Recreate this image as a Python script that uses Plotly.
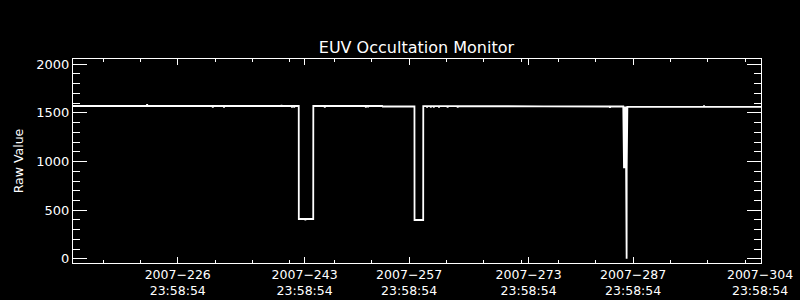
import plotly.graph_objects as go

# ---- data (day of year 2007, raw value) ----
doy = [
    211.97, 221.85, 221.90, 221.95, 230.65, 230.70, 230.75, 232.15, 232.20, 232.25,
    239.85, 239.90, 239.95, 241.25, 241.30, 241.35, 241.55, 241.60, 241.65, 242.21,
    242.22, 243.05, 243.10, 243.15, 244.15,
    244.16, 245.65, 245.70, 245.75, 251.15, 251.20, 251.25, 251.45, 251.50, 251.55, 253.40,
    253.45, 257.71,
    257.72, 258.88,
    258.89, 259.35, 259.40, 259.45, 259.85, 259.90, 259.95, 260.25, 260.30, 260.35,
    260.95, 261.00, 261.05, 262.10, 262.15, 262.20, 263.45, 263.50, 263.55, 275.00,
    283.85, 283.90, 283.95, 285.68,
    285.69, 285.70, 285.76, 285.78, 285.84, 285.86, 285.93, 285.95, 286.01, 286.03,
    286.08, 286.09, 286.13, 286.14, 286.18, 286.20, 286.23,
    296.45, 296.50, 296.55, 304.13,
]
raw = [
    1571, 1571, 1590, 1571, 1571, 1555, 1571, 1571, 1556, 1571,
    1571, 1582, 1571, 1571, 1556, 1571, 1571, 1555, 1571, 1571,
    410, 410, 398, 410, 410,
    1571, 1571, 1556, 1571, 1571, 1556, 1571, 1571, 1557, 1571, 1571,
    1566, 1566,
    400, 400,
    1569, 1569, 1555, 1569, 1569, 1556, 1569, 1569, 1556, 1569,
    1569, 1555, 1569, 1569, 1556, 1569, 1569, 1556, 1569, 1568,
    1566, 1553, 1566, 1566,
    1566, 931, 1566, 931, 1566, 931, 1566, 931, 1566, 931,
    931, 2, 2, 931, 1562, 931, 1562,
    1562, 1575, 1562, 1562,
]

# ---- axis ticks ----
x_range = [211.97, 304.13]
major_days = [226, 243, 257, 273, 287, 304]
major_labels = ["2007\u2212226<br>23:58:54", "2007\u2212243<br>23:58:54",
                "2007\u2212257<br>23:58:54", "2007\u2212273<br>23:58:54",
                "2007\u2212287<br>23:58:54", "2007\u2212304<br>23:58:54"]
minor_days = [216, 221, 231, 236, 241, 247, 252, 262, 267, 272, 277, 282, 292, 297, 302]
y_range = [-42, 2054]
y_ticks = [0, 500, 1000, 1500, 2000]

FONT = "DejaVu Sans"

fig = go.Figure()
fig.add_trace(go.Scatter(x=doy, y=raw, mode="lines",
                         line=dict(color="white", width=1.8),
                         hoverinfo="skip", showlegend=False))

fig.update_layout(
    width=800, height=300,
    paper_bgcolor="black", plot_bgcolor="black",
    margin=dict(l=73, r=39, t=59, b=37, pad=0, autoexpand=False),
    title=dict(text="EUV Occultation Monitor", x=0.5205, xanchor="center",
               y=1 - 47 / 300, yanchor="middle", yref="container",
               font=dict(family=FONT, size=16, color="white")),
    font=dict(family=FONT, color="white"),
    showlegend=False,
)

fig.update_xaxes(
    range=x_range, showgrid=False, zeroline=False, automargin=False,
    showline=True, linecolor="white", linewidth=1, mirror="ticks",
    tickmode="array", tickvals=major_days, ticktext=major_labels,
    ticks="inside", ticklen=6, tickcolor="white", tickwidth=1,
    tickfont=dict(family=FONT, size=12.5, color="white"),
    minor=dict(tickmode="array", tickvals=minor_days, ticks="inside",
               ticklen=3, tickcolor="white", tickwidth=1, showgrid=False),
)
fig.update_yaxes(
    range=y_range, showgrid=False, zeroline=False, automargin=False,
    showline=True, linecolor="white", linewidth=1, mirror="ticks",
    tickmode="array", tickvals=y_ticks,
    ticks="inside", ticklen=14, tickcolor="white", tickwidth=1,
    tickfont=dict(family=FONT, size=13, color="white"),
    minor=dict(dtick=100, tick0=0, ticks="inside", ticklen=7,
               tickcolor="white", tickwidth=1, showgrid=False),
)

fig.add_annotation(text="Raw Value", textangle=-90, xref="paper", yref="paper",
                   x=(18.3 - 73) / 688, y=0.5, xanchor="center", yanchor="middle",
                   showarrow=False, font=dict(family=FONT, size=12.5, color="white"))

fig.write_html("out.html")
